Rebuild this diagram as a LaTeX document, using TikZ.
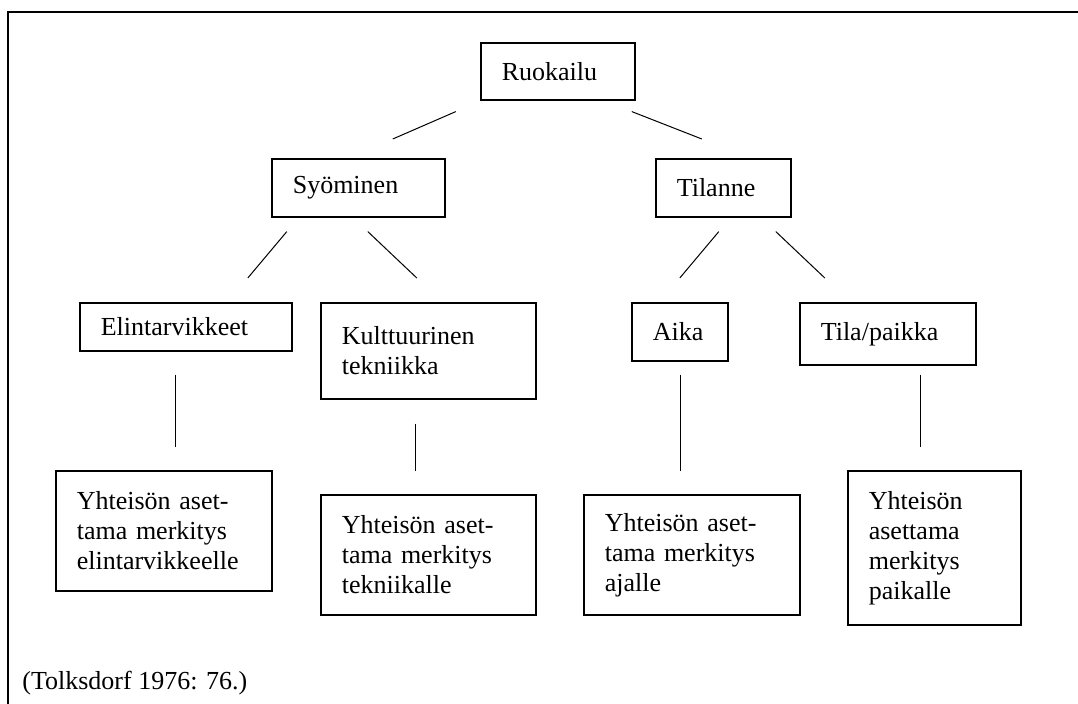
\documentclass[tikz,border=0pt]{standalone}
\usepackage{fontspec}
\setmainfont{Liberation Serif}
\usepackage{tikz}

\begin{document}
\begin{tikzpicture}[x=0.5pt,y=-0.5pt,
  box/.style={draw,line width=0.8pt,anchor=north west,align=left,inner xsep=10.5pt,inner ysep=2pt,font=\fontsize{13}{15}\selectfont},
  link/.style={line width=0.5pt}]
\useasboundingbox (0,0) rectangle (1078,704);
\draw[line width=1pt] (1080,12) -- (8,12) -- (8,706);
\node[box,text width=56pt,minimum height=28.5pt] (ruok) at (480,42) {Ruokailu};
\node[box,text width=65.5pt,minimum height=29pt] (syom) at (271,158) {Syöminen};
\node[box,text width=46.5pt,minimum height=29pt] (tila) at (655,158) {Tilanne};
\node[box,text width=85pt,minimum height=24pt] (elin) at (79,302) {Elintarvikkeet};
\node[box,text width=86.5pt,minimum height=48pt] (kult) at (320,302) {Kulttuurinen\\tekniikka};
\node[box,text width=27pt,minimum height=29pt] (aika) at (631,302) {Aika};
\node[box,text width=67pt,minimum height=31pt] (paik) at (799,302) {Tila/paikka};
\node[box,text width=87pt,minimum height=60pt] (elinmer) at (55,470) {Yhteisön aset-\\tama merkitys\\elintarvikkeelle};
\node[box,text width=86.5pt,minimum height=60pt] (kultmer) at (320,494) {Yhteisön aset-\\tama merkitys\\tekniikalle};
\node[box,text width=87pt,minimum height=60pt] (aikamer) at (583,494) {Yhteisön aset-\\tama merkitys\\ajalle};
\node[box,text width=65.5pt,minimum height=77pt] (paikmer) at (847,470) {Yhteisön\\asettama\\merkitys\\paikalle};
\node[anchor=base west,inner sep=0pt,font=\fontsize{13}{15}\selectfont] (lahde) at (22,690) {(Tolksdorf 1976: 76.)};
\draw[link] ([shift={(-102,11)}]ruok.south) -- ([shift={(34.5,-19)}]syom.north);
\draw[link] ([shift={(74,11)}]ruok.south) -- ([shift={(-21.5,-19)}]tila.north);
\draw[link] ([shift={(-71.5,14)}]syom.south) -- ([shift={(62,-24)}]elin.north);
\draw[link] ([shift={(9.5,14)}]syom.south) -- ([shift={(-11.5,-24)}]kult.north);
\draw[link] ([shift={(-4.5,14)}]tila.south) -- ([shift={(0,-24)}]aika.north);
\draw[link] ([shift={(52.5,14)}]tila.south) -- ([shift={(-63,-24)}]paik.north);
\draw[link] ([shift={(-10,23)}]elin.south) -- ([shift={(12,-23)}]elinmer.north);
\draw[link] ([shift={(-12.5,24)}]kult.south) -- ([shift={(-12.5,-23)}]kultmer.north);
\draw[link] ([shift={(1,13)}]aika.south) -- ([shift={(-11,-23)}]aikamer.north);
\draw[link] ([shift={(33,9)}]paik.south) -- ([shift={(-13.5,-23)}]paikmer.north);
\end{tikzpicture}
\end{document}
